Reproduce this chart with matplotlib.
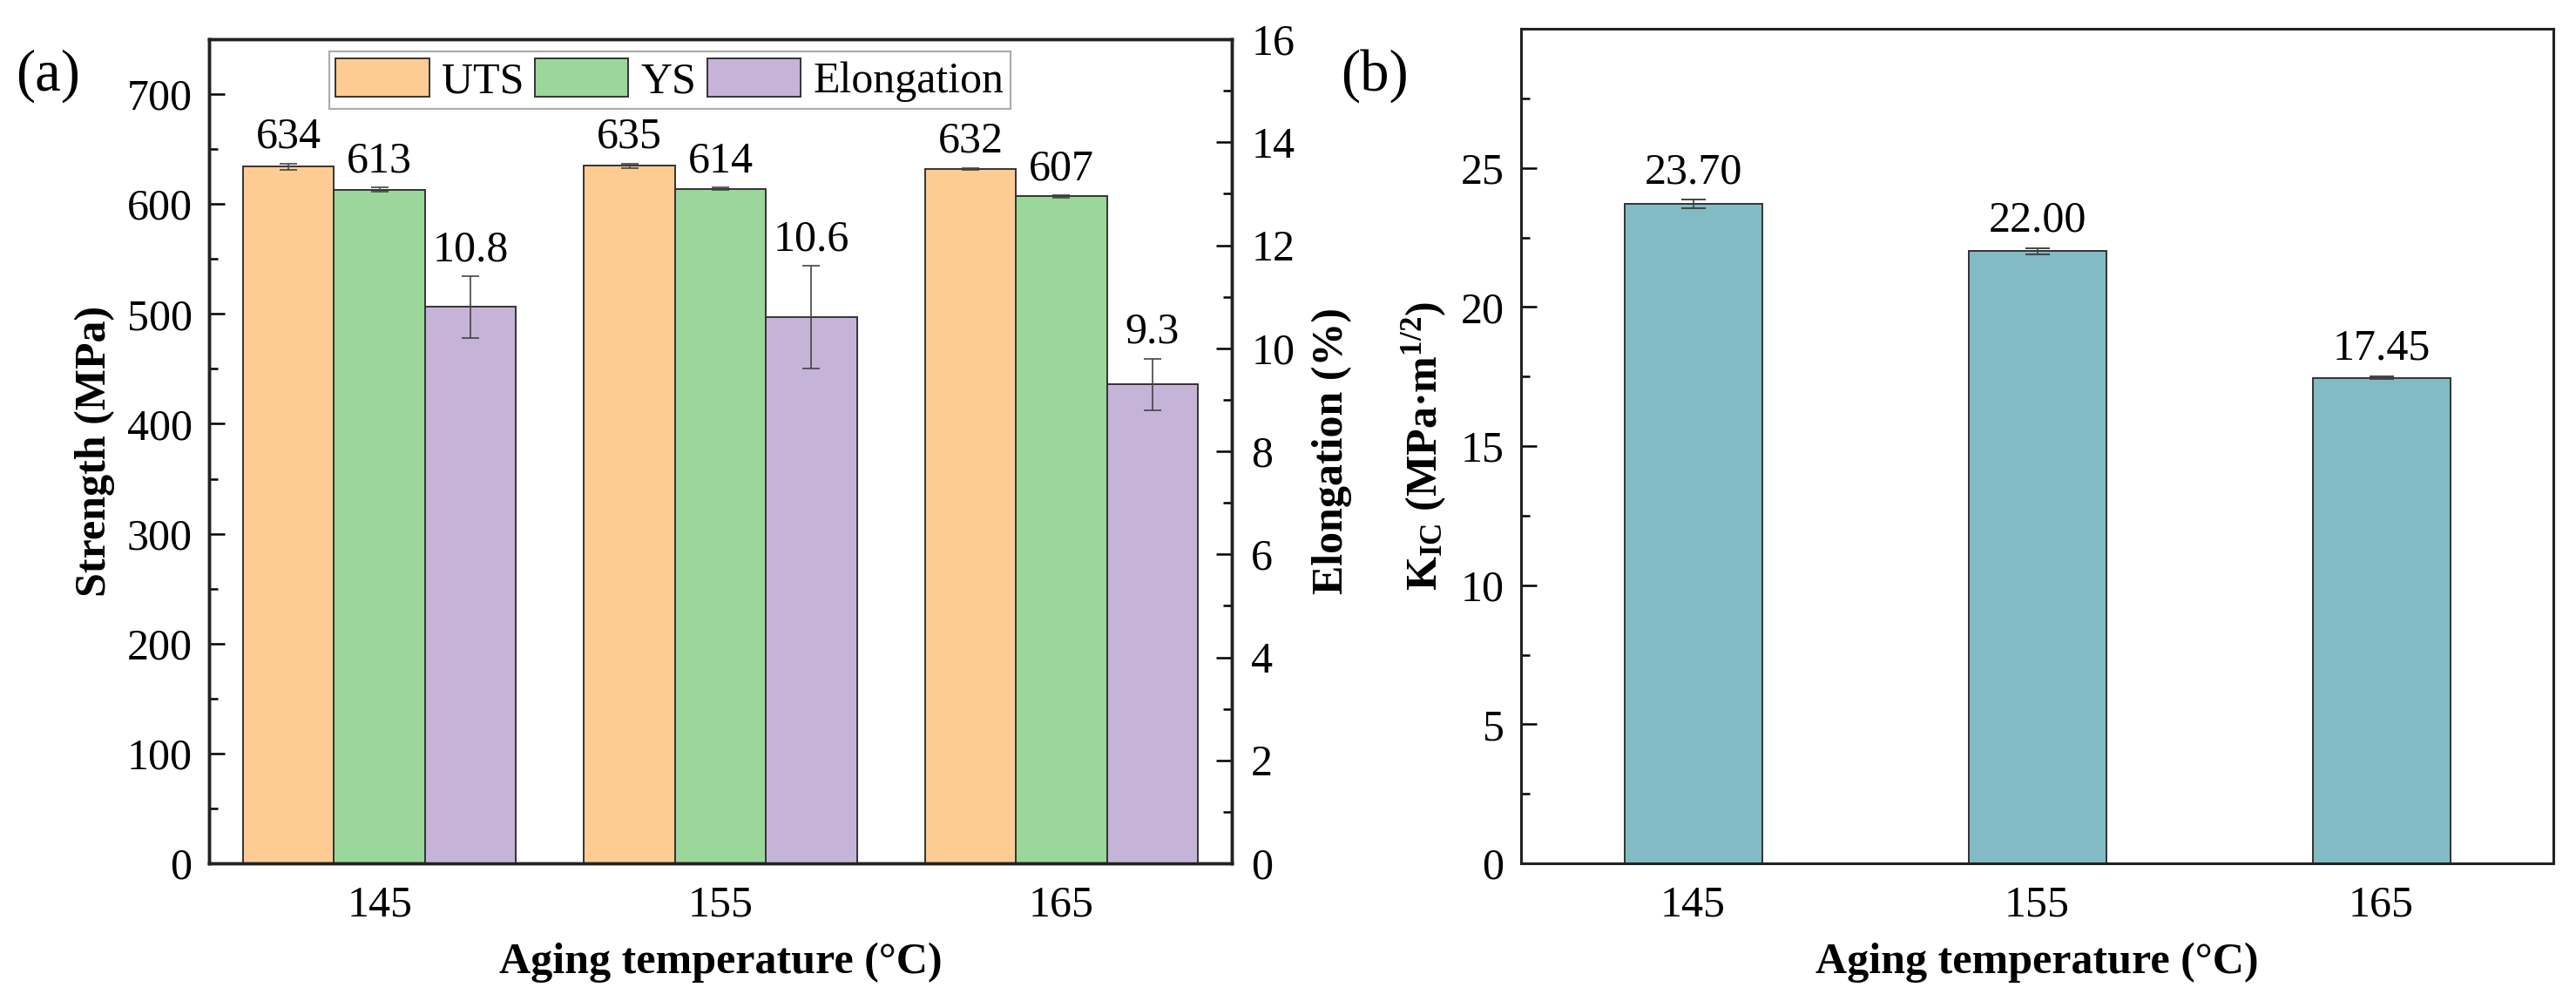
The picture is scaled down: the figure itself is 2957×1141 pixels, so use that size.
import matplotlib
matplotlib.use("Agg")
import matplotlib.pyplot as plt
import numpy as np
from matplotlib.ticker import MultipleLocator

plt.rcParams['font.family'] = ['Liberation Serif', 'DejaVu Serif']
plt.rcParams['mathtext.fontset'] = 'custom'
plt.rcParams['mathtext.rm'] = 'Liberation Serif'
plt.rcParams['mathtext.it'] = 'Liberation Serif:italic'
plt.rcParams['mathtext.bf'] = 'Liberation Serif:bold'

# ---------------- data ----------------
temps = ["145", "155", "165"]
uts = [634, 635, 632]
uts_err = [3, 2, 1]
ys = [613, 614, 607]
ys_err = [2, 1, 1]
elong = [10.8, 10.6, 9.3]
elong_err = [0.6, 1.0, 0.5]
elong_labels = ["10.8", "10.6", "9.3"]
kic = [23.70, 22.00, 17.45]
kic_err = [0.15, 0.12, 0.05]
kic_labels = ["23.70", "22.00", "17.45"]

c_uts = '#FECC92'
c_ys = '#9BD69B'
c_el = '#C5B4D8'
c_kic = '#82BBC4'
edge = '#333333'
errc = '#444444'

FS = 36
W, H = 2957, 1141
fig = plt.figure(figsize=(W / 100, H / 100), dpi=100)

def frac(l, r, t, b):
    return [l / W, 1 - b / H, (r - l) / W, (b - t) / H]

# ---------------- panel (a) ----------------
ax = fig.add_axes(frac(240, 1414, 45, 991))
ax2 = ax.twinx()
x = np.arange(len(temps))
bw = 0.8 / 3
b1 = ax.bar(x - bw, uts, bw, color=c_uts, edgecolor=edge, linewidth=1.4, label='UTS')
b2 = ax.bar(x, ys, bw, color=c_ys, edgecolor=edge, linewidth=1.4, label='YS')
ax.errorbar(x - bw, uts, yerr=uts_err, fmt='none', ecolor=errc, elinewidth=1.2, capsize=7, capthick=1.2)
ax.errorbar(x, ys, yerr=ys_err, fmt='none', ecolor=errc, elinewidth=1.2, capsize=7, capthick=1.2)
b3 = ax2.bar(x + bw, elong, bw, color=c_el, edgecolor=edge, linewidth=1.4, label='Elongation')
ax2.errorbar(x + bw, elong, yerr=elong_err, fmt='none', ecolor=errc, elinewidth=1.2, capsize=7, capthick=1.2)

for xi, v, e in zip(x - bw, uts, uts_err):
    ax.annotate(str(v), (xi, v + e), xytext=(0, 5), textcoords='offset points',
                ha='center', va='bottom', fontsize=FS)
for xi, v, e in zip(x, ys, ys_err):
    ax.annotate(str(v), (xi, v + e), xytext=(0, 5), textcoords='offset points',
                ha='center', va='bottom', fontsize=FS)
for xi, v, e, s in zip(x + bw, elong, elong_err, elong_labels):
    ax2.annotate(s, (xi, v + e), xytext=(0, 5), textcoords='offset points',
                 ha='center', va='bottom', fontsize=FS)

ax.set_xlim(-0.5, 2.5)
ax.set_ylim(0, 750)
ax2.set_ylim(0, 16)
ax.set_xticks(x)
ax.set_xticklabels(temps)
ax.yaxis.set_major_locator(MultipleLocator(100))
ax.yaxis.set_minor_locator(MultipleLocator(50))
ax2.yaxis.set_major_locator(MultipleLocator(2))
ax2.yaxis.set_minor_locator(MultipleLocator(1))
ax.tick_params(axis='x', length=0, pad=18, labelsize=FS)
ax.tick_params(axis='y', which='major', direction='in', length=13, width=1.8, pad=14, labelsize=FS)
ax.tick_params(axis='y', which='minor', direction='in', length=7, width=1.8)
ax2.tick_params(axis='y', which='major', direction='in', length=13, width=1.8, pad=16, labelsize=FS)
ax2.tick_params(axis='y', which='minor', direction='in', length=7, width=1.8)
for a in (ax, ax2):
    for sp in a.spines.values():
        sp.set_linewidth(2.5)
        sp.set_color('#222222')
ax.set_xlabel('Aging temperature (°C)', fontsize=FS, fontweight='bold', labelpad=14)
ax.set_ylabel('Strength (MPa)', fontsize=FS, fontweight='bold', labelpad=10)
ax2.set_ylabel('Elongation (%)', fontsize=FS, fontweight='bold', labelpad=14)

leg = ax2.legend(handles=[b1, b2, b3], loc='upper left', bbox_to_anchor=(0.1175, 0.985),
                 ncol=3, fontsize=FS, frameon=True, fancybox=False, edgecolor='#999999',
                 handlelength=2.15, handleheight=1.0, handletextpad=0.28, columnspacing=0.25,
                 borderpad=0.15, borderaxespad=0)
leg.get_frame().set_linewidth(1.6)

# ---------------- panel (b) ----------------
bx = fig.add_axes(frac(1746, 2931, 33, 991))
bx.bar(x, kic, 0.4, color=c_kic, edgecolor=edge, linewidth=1.4)
bx.errorbar(x, kic, yerr=kic_err, fmt='none', ecolor=errc, elinewidth=1.2, capsize=10, capthick=1.4)
for xi, v, e, s in zip(x, kic, kic_err, kic_labels):
    bx.annotate(s, (xi, v + e), xytext=(0, 6), textcoords='offset points',
                ha='center', va='bottom', fontsize=FS)
bx.set_xlim(-0.5, 2.5)
bx.set_ylim(0, 30)
bx.set_xticks(x)
bx.set_xticklabels(temps)
bx.set_yticks([0, 5, 10, 15, 20, 25])
bx.yaxis.set_minor_locator(MultipleLocator(2.5))
bx.tick_params(axis='x', length=0, pad=18, labelsize=FS)
bx.tick_params(axis='y', which='major', direction='in', length=13, width=1.8, pad=14, labelsize=FS)
bx.tick_params(axis='y', which='minor', direction='in', length=7, width=1.8)
for sp in bx.spines.values():
    sp.set_linewidth(2.2)
    sp.set_color('#222222')
bx.set_xlabel('Aging temperature (°C)', fontsize=FS, fontweight='bold', labelpad=14)
bx.set_ylabel(r'K$_{\mathbf{IC}}$ (MPa·m$^{\mathbf{1/2}}$)', fontsize=FS, fontweight='bold', labelpad=10)

fig.text(55 / W, 1 - 87 / H, '(a)', fontsize=48, ha='center', va='center')
fig.text(1578 / W, 1 - 87 / H, '(b)', fontsize=48, ha='center', va='center')

fig.savefig('out.png', dpi=100, facecolor='white')
